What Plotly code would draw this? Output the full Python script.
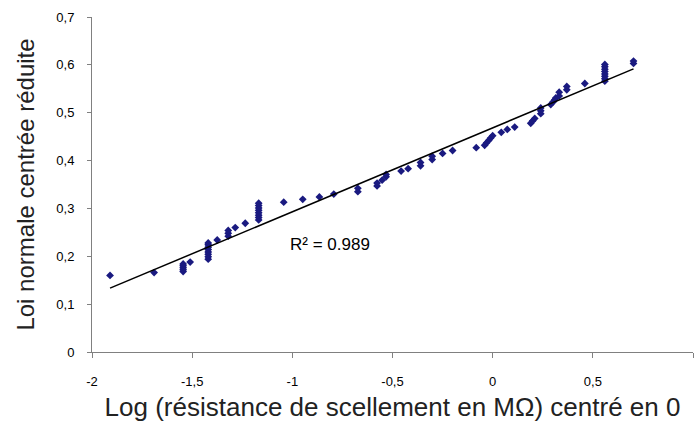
import numpy as np
import plotly.graph_objects as go

# points (x = centred log resistance, y = normal score)
x_pts = [-1.91, -1.69,
         -1.545, -1.545, -1.545, -1.545, -1.545, -1.51,
         -1.42, -1.42, -1.42, -1.42, -1.42, -1.42, -1.42, -1.42,
         -1.375, -1.32, -1.32, -1.32, -1.285, -1.235,
         -1.168, -1.168, -1.168, -1.168, -1.168, -1.168, -1.168, -1.168,
         -1.043, -0.948, -0.865, -0.793, -0.673, -0.673,
         -0.577, -0.577, -0.552, -0.532, -0.532, -0.457, -0.422,
         -0.36, -0.36, -0.302, -0.302, -0.25, -0.20, -0.082,
         -0.04, -0.03, -0.02, -0.01, 0.0, 0.043, 0.073, 0.11,
         0.19, 0.20, 0.21, 0.24, 0.24, 0.24,
         0.29, 0.30, 0.31, 0.315, 0.332, 0.332, 0.37, 0.37, 0.46,
         0.56, 0.56, 0.56, 0.56, 0.56, 0.56, 0.56, 0.56,
         0.703, 0.703]
y_pts = [0.160, 0.166,
         0.168, 0.172, 0.176, 0.180, 0.184, 0.188,
         0.194, 0.199, 0.204, 0.209, 0.214, 0.219, 0.224, 0.228,
         0.234, 0.242, 0.248, 0.254, 0.260, 0.269,
         0.276, 0.281, 0.286, 0.291, 0.296, 0.301, 0.306, 0.311,
         0.313, 0.319, 0.324, 0.330, 0.335, 0.342,
         0.347, 0.353, 0.359, 0.366, 0.371, 0.378, 0.383,
         0.389, 0.396, 0.402, 0.409, 0.415, 0.421, 0.427,
         0.432, 0.437, 0.442, 0.447, 0.452, 0.459, 0.465, 0.470,
         0.478, 0.483, 0.488, 0.498, 0.504, 0.510,
         0.517, 0.522, 0.527, 0.531, 0.535, 0.543, 0.548, 0.555, 0.561,
         0.566, 0.571, 0.576, 0.581, 0.586, 0.591, 0.596, 0.601,
         0.603, 0.608]

x_ticks = [-2, -1.5, -1, -0.5, 0, 0.5, 1]
x_labels = ["-2", "-1,5", "-1", "-0,5", "0", "0,5", "1"]
y_ticks = [0, 0.1, 0.2, 0.3, 0.4, 0.5, 0.6, 0.7]
y_labels = ["0", "0,1", "0,2", "0,3", "0,4", "0,5", "0,6", "0,7"]
r2_text = "R² = 0.989"

# linear trendline
slope, intercept = np.polyfit(x_pts, y_pts, 1)
x_fit = np.array([min(x_pts), max(x_pts)])
y_fit = slope * x_fit + intercept

fig = go.Figure()

fig.add_trace(go.Scatter(
    x=x_pts, y=y_pts,
    mode="markers",
    marker=dict(symbol="diamond", size=6, color="#1a1a80"),
))

fig.add_trace(go.Scatter(
    x=x_fit, y=y_fit,
    mode="lines",
    line=dict(color="black", width=1.5),
))

fig.add_annotation(
    x=-1.02, y=0.224, xanchor="left", yanchor="middle",
    text=r2_text, showarrow=False,
    font=dict(family="Liberation Sans, Arial", size=17, color="black"),
)

fig.update_layout(
    width=696, height=434,
    margin=dict(l=92, r=3, t=17, b=82, autoexpand=False),
    paper_bgcolor="white", plot_bgcolor="white",
    showlegend=False,
    font=dict(family="Liberation Sans, Arial", size=13, color="black"),
    xaxis=dict(
        range=[-2, 1], tickvals=x_ticks, ticktext=x_labels,
        showgrid=False, zeroline=False,
        showline=True, linecolor="#808080", linewidth=1,
        ticks="outside", ticklen=5, tickcolor="#808080",
        ticklabelstandoff=12, automargin=False,
        title=dict(text="Log (résistance de scellement en MΩ) centré en 0",
                   font=dict(size=26, color="#222222"), standoff=10),
    ),
    yaxis=dict(
        range=[0, 0.7], tickvals=y_ticks, ticktext=y_labels,
        showgrid=False, zeroline=False,
        showline=True, linecolor="#808080", linewidth=1,
        ticks="outside", ticklen=4, tickcolor="#808080",
        ticklabelstandoff=10, automargin=False,
        title=dict(text="Loi normale centrée réduite",
                   font=dict(size=24, color="#222222"), standoff=14),
    ),
)

# drop the default page margin so the figure sits at the window's corner
fig.write_html("out.html", config={"displayModeBar": False},
               post_script="document.body.style.margin='0';")
